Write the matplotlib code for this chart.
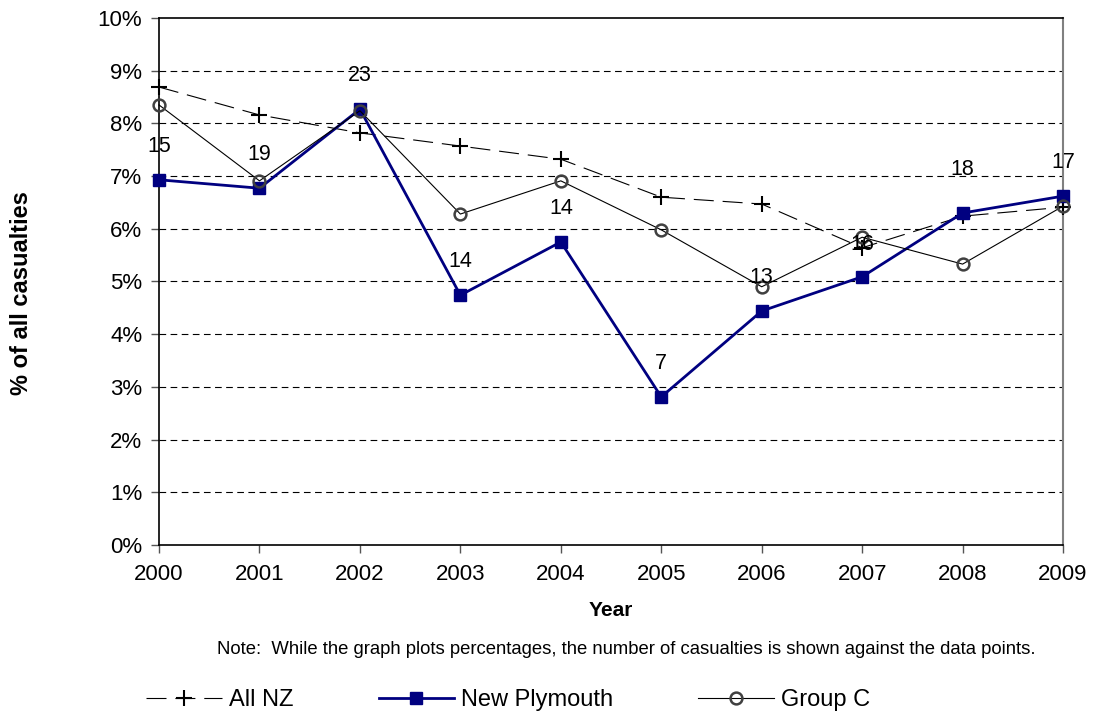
import matplotlib.pyplot as plt

plt.rcParams['font.family'] = ['Liberation Sans', 'DejaVu Sans']

years = [2000, 2001, 2002, 2003, 2004, 2005, 2006, 2007, 2008, 2009]
all_nz = [8.69, 8.16, 7.82, 7.57, 7.32, 6.60, 6.47, 5.64, 6.24, 6.41]
new_plymouth = [6.93, 6.77, 8.27, 4.74, 5.75, 2.81, 4.44, 5.09, 6.30, 6.62]
group_c = [8.35, 6.91, 8.24, 6.28, 6.91, 5.98, 4.90, 5.84, 5.33, 6.43]
casualties = [15, 19, 23, 14, 14, 7, 13, 16, 18, 17]

# label offsets (points) above the New Plymouth markers
label_dy = [24, 24, 24, 24, 24, 24, 24, 23, 31, 24]

fig = plt.figure(figsize=(10.93, 7.15), dpi=100)
ax = fig.add_axes([0.1455, 0.2378, 0.8271, 0.737])

for v in range(1, 10):
    ax.axhline(v, color='black', lw=0.8, ls=(0, (6, 4)), zorder=0)

ax.plot(years, all_nz, color='black', lw=0.8, ls=(0, (18, 8)),
        marker='+', ms=11, mew=1.5, label='All NZ', zorder=3, clip_on=False)
ax.plot(years, new_plymouth, color='#000080', lw=2, marker='s', ms=9,
        label='New Plymouth', zorder=4, clip_on=False)
ax.plot(years, group_c, color='black', lw=0.8, marker='o', ms=8.5,
        mfc='none', mec='#404040', mew=1.8, label='Group C', zorder=5, clip_on=False)

for x, y, n, dy in zip(years, new_plymouth, casualties, label_dy):
    ax.annotate(str(n), (x, y), xytext=(0, dy), textcoords='offset points',
                ha='center', va='center', fontsize=15.5, zorder=6)

ax.set_xlim(2000, 2009)
ax.set_ylim(0, 10)
ax.set_xticks(years)
ax.set_yticks(range(0, 11))
ax.set_yticklabels([f'{v}%' for v in range(0, 11)])
ax.tick_params(labelsize=16, direction='out', length=6, width=1, color='#555555')
ax.tick_params(axis='x', pad=8)
ax.tick_params(axis='y', pad=6)
for s in ['left', 'bottom', 'top']:
    ax.spines[s].set_color('black')
    ax.spines[s].set_linewidth(1.2)
ax.spines['right'].set_color('#808080')
ax.spines['right'].set_linewidth(1.5)

ax.set_xlabel('Year', fontsize=15, fontweight='bold', labelpad=11)
fig.text(0.02, 0.59, '% of all casualties', rotation=90, fontsize=17,
         fontweight='bold', ha='center', va='center')

fig.text(0.573, 0.091, 'Note:  While the graph plots percentages, the number of casualties is shown against the data points.',
         ha='center', va='center', fontsize=13.3)

fig.legend(loc='center', bbox_to_anchor=(0.465, 0.021), ncol=3, frameon=False,
           fontsize=17, handlelength=3.2, handletextpad=0.3, columnspacing=3.6)

fig.savefig('out.png', dpi=100)
